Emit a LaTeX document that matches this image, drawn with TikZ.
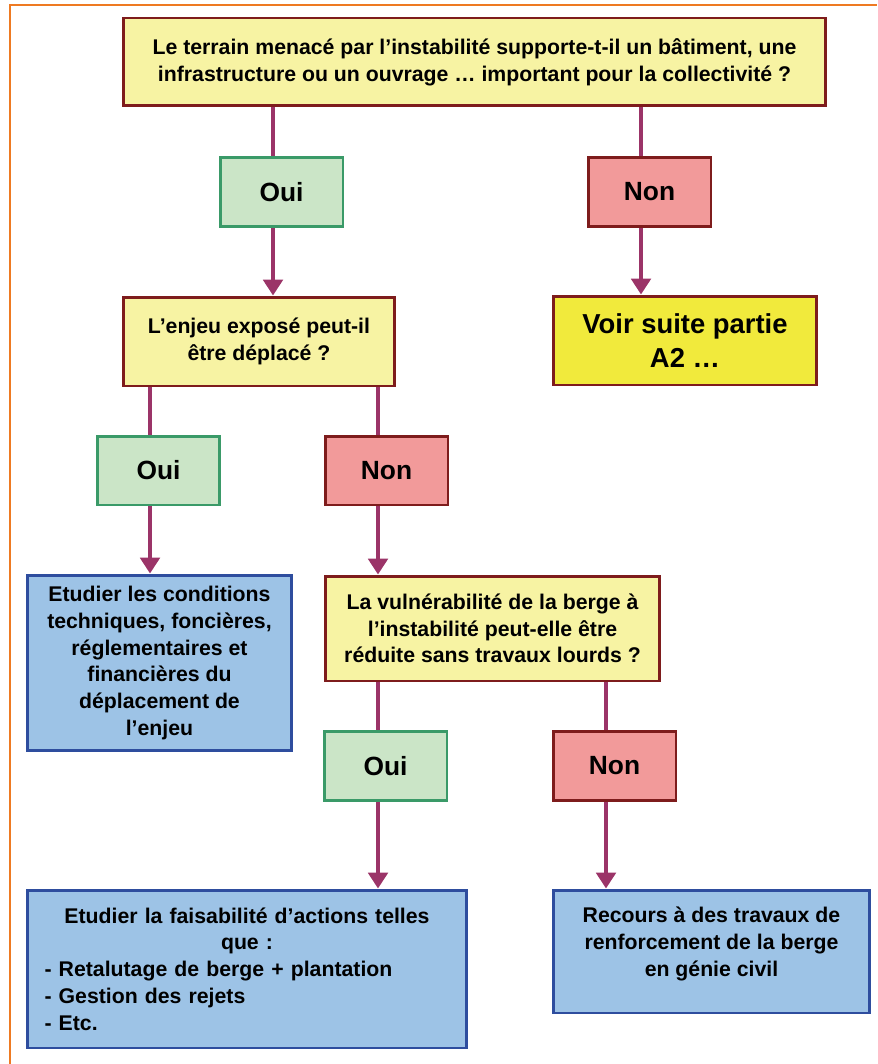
\documentclass[tikz,border=0pt]{standalone}
\usepackage{fontspec}
\setmainfont{Liberation Sans}
\usepackage{tikz}
\usetikzlibrary{arrows.meta,positioning}
\definecolor{qFill}{HTML}{F7F3A3}
\definecolor{qLine}{HTML}{7E1C1C}
\definecolor{ouiFill}{HTML}{CBE5C7}
\definecolor{ouiLine}{HTML}{3A9A68}
\definecolor{nonFill}{HTML}{F29A9A}
\definecolor{voirFill}{HTML}{F1EA3C}
\definecolor{actFill}{HTML}{9DC3E6}
\definecolor{actLine}{HTML}{2E4D9E}
\definecolor{lnkC}{HTML}{9B3468}
\definecolor{frameC}{HTML}{EE7A22}
\newcommand{\txtfont}{\fontsize{12.1pt}{15.2pt}\selectfont\bfseries}
\newcommand{\bigfont}{\fontsize{15pt}{18pt}\selectfont\bfseries}

\begin{document}
\begin{tikzpicture}[x=0.02cm,y=-0.02cm,
  box/.style={draw,line width=1.7pt,align=center,inner sep=0pt,font=\txtfont},
  quest/.style={box,draw=qLine,fill=qFill},
  yes/.style={box,draw=ouiLine,fill=ouiFill,font=\bigfont,minimum width=2.46cm,minimum height=1.38cm},
  no/.style={box,draw=qLine,fill=nonFill,font=\bigfont,minimum width=2.46cm,minimum height=1.38cm},
  act/.style={box,draw=actLine,fill=actFill},
  lnk/.style={draw=lnkC,line width=2.8pt},
  arr/.style={lnk,-{Triangle[width=11pt,length=9pt]}}]
  \useasboundingbox (0,0) rectangle (877,1064);
  \draw[frameC,line width=1.2pt] (10,1064) -- (10,5) -- (877,5);

  \node[quest,minimum width=14.06cm,minimum height=1.76cm] (top) at (474.5,62)
    {Le terrain menacé par l’instabilité supporte-t-il un bâtiment, une\\
    infrastructure ou un ouvrage … important pour la collectivité ?};
  \node[yes] (oui1) at (281.5,192) {Oui};
  \node[no] (non1) at (649.5,192) {Non};
  \node[quest,minimum width=5.44cm,minimum height=1.78cm] (q2) at (259,341.5)
    {L’enjeu exposé peut-il\\être déplacé ?};
  \node[quest,fill=voirFill,font=\fontsize{15.6pt}{19pt}\selectfont\bfseries,
    minimum width=5.28cm,minimum height=1.78cm] (voir) at (685,340.5)
    {Voir suite partie\\A2 …};
  \node[yes] (oui2) at (158.5,470.5) {Oui};
  \node[no] (non2) at (386.5,470.5) {Non};
  \node[act,minimum width=5.30cm,minimum height=3.52cm] (act1) at (159.5,663)
    {Etudier les conditions\\techniques, foncières,\\réglementaires et\\financières du\\déplacement de\\l’enjeu};
  \node[quest,minimum width=6.70cm,minimum height=2.10cm] (q3) at (492.5,628.5)
    {La vulnérabilité de la berge à\\l’instabilité peut-elle être\\réduite sans travaux lourds ?};
  \node[yes] (oui3) at (385.5,766) {Oui};
  \node[no] (non3) at (614.5,766) {Non};
  \node[act,align=left,text width=8.1cm,inner xsep=0.35cm,minimum height=3.16cm] (act2) at (247,969)
    {\makebox[\linewidth][c]{Etudier la faisabilité d’actions telles}\\
    \makebox[\linewidth][c]{que :}\\
    - Retalutage de berge + plantation\\
    - Gestion des rejets\\
    - Etc.};
  \node[act,minimum width=6.34cm,minimum height=2.46cm] (act3) at (711.5,951.5)
    {Recours à des travaux de\\renforcement de la berge\\en génie civil\\[-4pt]\mbox{}};

  \coordinate (xa) at (273,0);
  \coordinate (xb) at (641,0);
  \coordinate (xc) at (150,0);
  \coordinate (xd) at (378,0);
  \coordinate (xe) at (606,0);
  \draw[lnk] (top.south -| xa) -- (oui1.north -| xa);
  \draw[lnk] (top.south -| xb) -- (non1.north -| xb);
  \draw[arr] (oui1.south -| xa) -- (q2.north -| xa);
  \draw[arr] (non1.south -| xb) -- (voir.north -| xb);
  \draw[lnk] (q2.south -| xc) -- (oui2.north -| xc);
  \draw[lnk] (q2.south -| xd) -- (non2.north -| xd);
  \draw[arr] (oui2.south -| xc) -- (act1.north -| xc);
  \draw[arr] (non2.south -| xd) -- (q3.north -| xd);
  \draw[lnk] (q3.south -| xd) -- (oui3.north -| xd);
  \draw[lnk] (q3.south -| xe) -- (non3.north -| xe);
  \draw[arr] (oui3.south -| xd) -- (act2.north -| xd);
  \draw[arr] (non3.south -| xe) -- (act3.north -| xe);
\end{tikzpicture}
\end{document}
